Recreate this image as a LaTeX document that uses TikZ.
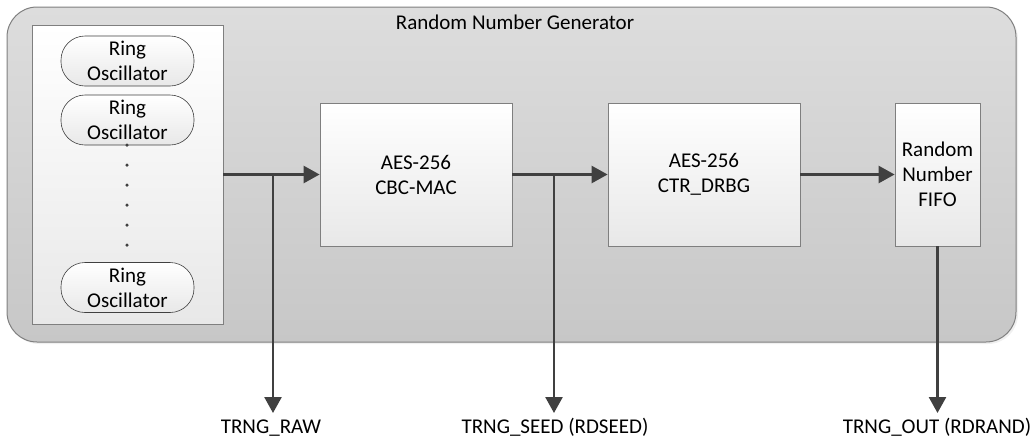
\documentclass[tikz,border=0pt]{standalone}
\usepackage{fontspec}
\setmainfont{Carlito}
\usetikzlibrary{arrows.meta,shadows}
\definecolor{linec}{HTML}{404040}
\definecolor{borderc}{HTML}{7F7F7F}
\definecolor{outtop}{HTML}{DDDDDD}
\definecolor{outbot}{HTML}{C7C7C7}
\definecolor{boxbot}{HTML}{E8E8E8}
\tikzset{
  outerbox/.style={draw=borderc, line width=1pt, rounded corners=30pt, top color=outtop, bottom color=outbot, inner sep=0pt,
     drop shadow={opacity=0.12, shadow xshift=2pt, shadow yshift=-2pt}},
  panelbox/.style={draw=borderc, line width=0.8pt, top color=white, bottom color=boxbot, inner sep=0pt},
  blockbox/.style={draw=borderc, line width=0.8pt, top color=white, bottom color=boxbot, inner sep=0pt, align=center},
  ringbox/.style={draw=linec, line width=0.6pt, rounded corners=24pt, top color=white, bottom color=boxbot, inner sep=0pt, align=center,
     minimum width=133pt, minimum height=50pt},
  conn/.style={draw=linec, line width=2.6pt},
  arr/.style={conn, -{Triangle[length=16pt,width=17pt]}},
  lbl/.style={anchor=base, inner sep=0pt},
  dotc/.style={circle, fill=linec, inner sep=0pt, minimum size=3.5pt}
}
\begin{document}
\begin{tikzpicture}[x=1pt, y=-1pt, font=\fontsize{21}{25}\selectfont]
\useasboundingbox (0,0) rectangle (1031,440);
\node[outerbox, minimum width=1009pt, minimum height=335pt] (rng) at (511.5,174.5) {};
\node[inner sep=0pt] (title) at (515,22) {Random Number Generator};
\node[panelbox, minimum width=191pt, minimum height=299pt] (panel) at (127.5,174.5) {};
\node[ringbox] (ro1) at (127.5,61) {Ring\\Oscillator};
\node[ringbox] (ro2) at (127.5,120) {Ring\\Oscillator};
\node[ringbox] (ro3) at (127.5,287.5) {Ring\\Oscillator};
\foreach \k in {0,...,5} { \node[dotc] (d\k) at (127,145+20*\k) {}; }
\node[blockbox, minimum width=192pt, minimum height=143pt] (mac) at (416,174.5) {AES-256\\CBC-MAC};
\node[blockbox, minimum width=192pt, minimum height=143pt] (drbg) at (704,174.5) {AES-256\\CTR\_DRBG};
\node[blockbox, minimum width=85pt, minimum height=143pt] (fifo) at (937.5,174.5) {Random\\Number\\FIFO};
\coordinate (j1) at (273,174.5);
\coordinate (j2) at (554,174.5);
\coordinate (e1) at (273,413);
\coordinate (e2) at (554,413);
\coordinate (e3) at (937.5,413);
\draw[arr] (panel.east) -- (mac.west);
\draw[arr] (mac.east) -- (drbg.west);
\draw[arr] (drbg.east) -- (fifo.west);
\draw[arr] (j1) -- (e1);
\draw[arr] (j2) -- (e2);
\draw[arr] (fifo.south) -- (e3);
\node[lbl] (raw) at (271,433) {TRNG\_RAW};
\node[lbl] (seed) at (555,433) {TRNG\_SEED (RDSEED)};
\node[lbl] (out) at (937,433) {TRNG\_OUT (RDRAND)};
\end{tikzpicture}
\end{document}
